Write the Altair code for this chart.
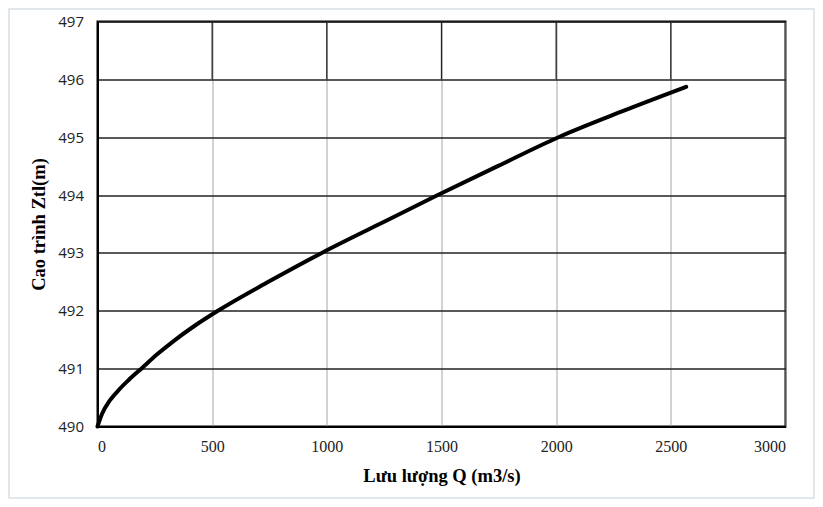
import altair as alt
import pandas as pd

# Rating curve
q_values = [0, 20, 54, 97, 135, 191, 264, 336, 416, 525, 745, 978, 1230, 1484, 1745, 2010, 2290, 2567]
z_values = [490.0, 490.22, 490.45, 490.65, 490.8, 491.0, 491.26, 491.49, 491.72,
            492.0, 492.5, 493.0, 493.5, 494.0, 494.5, 495.0, 495.45, 495.87]

x_ticks = [0, 500, 1000, 1500, 2000, 2500, 3000]
y_ticks = [490, 491, 492, 493, 494, 495, 496, 497]
top_band_x = [500, 1000, 1500, 2000, 2500]

W, H = 688, 405
PL, PT, PR, PB = 89.5, 13.5, 29.5, 72.5

curve = pd.DataFrame({"Q": q_values, "Z": z_values})
band = pd.DataFrame({"Q": top_band_x, "y1": [496] * len(top_band_x), "y2": [497] * len(top_band_x)})

xs = alt.Scale(domain=[0, 3000], nice=False)
ys = alt.Scale(domain=[490, 497], nice=False, zero=False)

line = alt.Chart(curve).mark_line(
    color="black", strokeWidth=4, interpolate="monotone", strokeCap="round"
).encode(
    x=alt.X("Q:Q", scale=xs, title="Lưu lượng Q (m3/s)",
            axis=alt.Axis(values=x_ticks, format="d", grid=True, gridColor="#a6a6a6", gridWidth=1,
                          ticks=False, labelFont="Liberation Serif", labelFontSize=16,
                          labelColor="#222", labelPadding=12, domainColor="black", domainWidth=2,
                          titleFont="Liberation Serif", titleFontSize=18.5, titleFontWeight="bold",
                          titleColor="black", titlePadding=12)),
    y=alt.Y("Z:Q", scale=ys, title="Cao trình Ztl(m)",
            axis=alt.Axis(values=y_ticks, format="d", grid=True, gridColor="#222", gridWidth=1.3,
                          ticks=False, labelFont="Open Sans", labelFontSize=15,
                          labelColor="#222", labelPadding=14, domainColor="black", domainWidth=2,
                          titleFont="Liberation Serif", titleFontSize=18.5, titleFontWeight="bold",
                          titleColor="black", titlePadding=9)),
)

band_rules = alt.Chart(band).mark_rule(color="#222", strokeWidth=1.3).encode(
    x=alt.X("Q:Q", scale=xs), y=alt.Y("y1:Q", scale=ys), y2="y2:Q"
)

border = alt.Chart(pd.DataFrame({"a": [0]})).mark_rect(
    fill="transparent", stroke="#d9dfe6", strokeWidth=1.5
).encode(
    x=alt.value(-PL + 1), x2=alt.value(W + PR - 1),
    y=alt.value(-PT + 1), y2=alt.value(H + PB - 1),
)

chart = alt.layer(border, band_rules, line).properties(
    width=W, height=H,
    autosize=alt.AutoSizeParams(type="none"),
    padding={"left": PL, "top": PT, "right": PR, "bottom": PB},
    background="white",
).configure_view(stroke="black", strokeWidth=2)

chart.save("out.html", embed_options={"renderer": "svg", "actions": False})
